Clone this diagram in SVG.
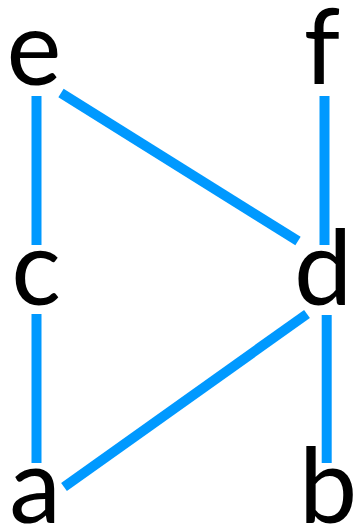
<svg xmlns="http://www.w3.org/2000/svg" width="355" height="531" viewBox="0 0 355 531">
<style>
.edge{stroke:#0099ff;stroke-width:10;fill:none;stroke-linecap:butt}
.lbl{font-family:Lato,"Open Sans",sans-serif;font-size:104px;fill:#000;text-anchor:middle}
</style>
<rect width="355" height="531" fill="#fff"/>
<g id="connectors">
<line class="edge" x1="36.5" y1="96" x2="36.5" y2="245"/>
<line class="edge" x1="36.5" y1="314" x2="36.5" y2="463"/>
<line class="edge" x1="61" y1="93" x2="298" y2="241"/>
<line class="edge" x1="324.5" y1="96" x2="324.5" y2="245"/>
<line class="edge" x1="307" y1="314" x2="64" y2="487"/>
<line class="edge" x1="326.7" y1="315" x2="326.7" y2="463"/>
</g>
<g id="e"><text class="lbl" x="34" y="85">e</text></g>
<g id="f"><text class="lbl" x="322" y="84">f</text></g>
<g id="c"><text class="lbl" x="36" y="305">c</text></g>
<g id="d"><text class="lbl" x="323" y="305">d</text></g>
<g id="a"><text class="lbl" x="35" y="523">a</text></g>
<g id="b"><text class="lbl" x="328" y="523">b</text></g>
</svg>
